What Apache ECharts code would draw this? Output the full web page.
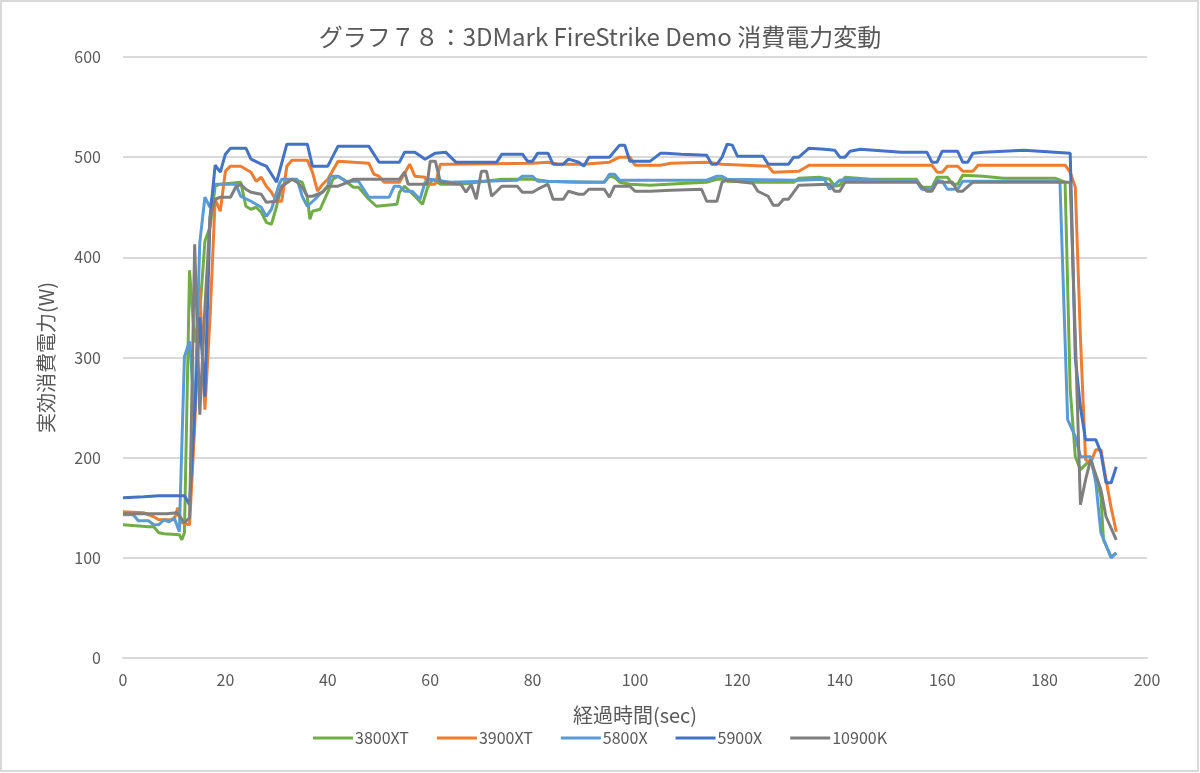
<!DOCTYPE html>
<html>
<head>
<meta charset="utf-8">
<script src="https://cdn.jsdelivr.net/npm/echarts@6/dist/echarts.min.js"></script>
<style>
  body { margin: 0; background: #fff; }
  #chart { width: 1200px; height: 773px; }
</style>
</head>
<body>
<div id="chart"></div>
<script>
// [経過時間 sec, 実効消費電力 W]
var s3800XT = [[0,133],[5,131],[6,131],[7,125],[8,124],[11,123],[11.5,118],[12,125],[13,387],[14,315],[15,345],[16,416],[17,430],[18,471],[19,473],[23,475],[24,451],[25,448],[26,450],[27,445],[28,435],[29,433],[30,451],[31,471],[33,478],[35,475],[36,460],[36.5,438],[37,446],[38.5,448],[40,465],[41,478],[42,481],[43,478],[45,470],[46,470],[48,458],[49.5,451],[53.5,453],[54,465],[55,471],[57,461],[58.5,453],[59.5,470],[60.5,478],[62,473],[66,473],[74,478],[80,478],[83,476],[88,475],[94,475],[95,481],[96,480],[97,475],[99,473],[103,472],[110,474],[114,475],[116,478],[117,478],[118,476],[124,475],[131,475],[132,479],[136,480],[138,478],[139,471],[140,472],[141,480],[146,478],[155,478],[156,470],[158,470],[159,480],[161,480],[162,473],[163,473],[164,482],[168,481],[172,479],[182,479],[184,475],[185,268],[186,201],[187,188],[189,198],[191,161],[191.5,118],[193,101],[194,105]];
var s3900XT = [[0,146],[4,145],[6,141],[7,138],[10,138],[10.7,150],[11.5,135],[13,133],[14,230],[15,370],[16,248],[17,340],[18,458],[19,446],[20,486],[21,491],[23,491],[25,485],[26,476],[27,480],[28,471],[29,465],[30,456],[31,456],[32,491],[33,497],[36,497],[37,485],[38,466],[39,473],[40,478],[42,496],[48,494],[49,483],[50,481],[51,475],[54,475],[56,493],[57,481],[59,480],[59.5,473],[61,473],[62,493],[65,493],[80,494],[83,495],[85,493],[90,493],[95,495],[97,500],[99,500],[100,492],[105,492],[107,494],[114,495],[117,493],[126,491],[127,485],[132,486],[134,492],[158,492],[159,485],[160,485],[161,491],[163,491],[164,486],[166,486],[167,492],[184,492],[185,485],[186,470],[187,320],[188,198],[189,195],[190,208],[191,208],[192,178],[193,150],[194,126]];
var s5800X = [[0,143],[2,143],[3,137],[5,137],[6,133],[7,133],[8,138],[9,136],[10,140],[11,126],[12,301],[13,316],[14,245],[15,415],[16,460],[17,450],[18,473],[22,473],[23,461],[25,456],[27,450],[28,441],[29,448],[30.5,473],[31,478],[34,478],[35,461],[36,451],[37.5,458],[40,471],[40.5,481],[42,481],[43.5,476],[46,476],[48,460],[52,460],[53,471],[54,471],[55,466],[56.5,466],[58,458],[59,475],[60,478],[64,475],[77,477],[78,481],[80,481],[81,476],[94,475],[95,483],[96,483],[97,477],[114,477],[116,481],[117,481],[118,478],[132,477],[137,478],[138,468],[140,477],[142,478],[155,476],[156,468],[158,468],[159,477],[160,476],[161,468],[163,468],[164,476],[172,476],[182,476],[183,475],[184.5,238],[186,221],[187,201],[189,201],[190,175],[191,125],[193,100],[194,105]];
var s5900X = [[0,160],[4,161],[7,162],[12,162],[13,153],[15,340],[16,261],[17,440],[18,492],[19,485],[20,503],[21,509],[24,509],[25,498],[27,493],[28,491],[30,475],[32,513],[36,513],[37,491],[40,491],[42,511],[48,511],[50,495],[54,495],[55,505],[57,505],[59,498],[61,504],[63,505],[65,495],[73,495],[74,503],[78,503],[79,496],[80,496],[81,504],[83,504],[84,493],[86,493],[87,498],[89,495],[90,491],[91,500],[95,500],[97,512],[98,512],[99,496],[103,496],[105,504],[106,504],[109,503],[114,502],[115,493],[116,493],[117,500],[118,513],[119,512],[120,501],[125,501],[126,493],[130,493],[131,500],[132,500],[134,509],[137,508],[139,507],[140,500],[141,500],[142,506],[144,508],[152,505],[157,505],[158,495],[159,495],[160,506],[163,506],[164,495],[165,495],[166,504],[168,505],[176,507],[185,504],[186,300],[187,250],[188,218],[190,218],[191,205],[192,175],[193,175],[194,191]];
var s10900K = [[0,144],[8.6,144],[10.5,145],[12,135],[13,140],[14,413],[15,243],[16,350],[17,440],[18,458],[19,460],[21,460],[22,470],[23,473],[24,468],[25,465],[27,463],[28,455],[30,456],[31,471],[33,478],[34,475],[35,470],[36,461],[37,461],[38,463],[39,465],[40,471],[42,471],[44,475],[45,478],[54,478],[55,485],[55.7,473],[59.4,473],[60,496],[61,496],[62,475],[66,473],[67,465],[68,473],[69,458],[70,486],[71,486],[72,461],[74,471],[77,471],[78,465],[80,465],[81,468],[83,473],[84,458],[86,458],[87,466],[89,463],[90,463],[91,468],[94,468],[95,460],[96,471],[99,471],[100,466],[103,466],[107,467],[113,468],[114,456],[116,456],[117,475],[118,477],[123,474],[124,466],[126,461],[127,452],[128,452],[129,458],[130,458],[132,472],[138,473],[139,466],[140,466],[141,475],[155,475],[157,466],[158,466],[159,475],[162,475],[163,466],[164,466],[166,475],[185,475],[186,320],[187,153],[188,178],[189,198],[191,168],[192,141],[194,118]];

var seriesNames = ["3800XT", "3900XT", "5800X", "5900X", "10900K"];
var seriesData = [s3800XT, s3900XT, s5800X, s5900X, s10900K];
var colors = ["#70ad47", "#ed7d31", "#5b9bd5", "#4472c4", "#7f7f7f"];

var font = "'Noto Sans CJK JP', 'Noto Sans', sans-serif";
var textColor = "#595959";

var chart = echarts.init(document.getElementById("chart"));
chart.setOption({
  animation: false,
  color: colors,
  textStyle: { fontFamily: font },
  title: {
    text: "グラフ７８：3DMark FireStrike Demo 消費電力変動",
    left: "center",
    top: 20,
    textStyle: { fontFamily: font, fontSize: 24, fontWeight: "normal", color: textColor }
  },
  graphic: [{
    type: "rect",
    shape: { x: 1, y: 1, width: 1197, height: 770 },
    style: { fill: "none", stroke: "#d9d9d9", lineWidth: 2 }
  }],
  legend: {
    bottom: 22,
    left: "center",
    icon: "rect",
    itemWidth: 40,
    itemHeight: 3,
    itemGap: 28,
    textStyle: { fontFamily: font, fontSize: 16, color: textColor, padding: [0, 0, 0, -3] },
    data: seriesNames
  },
  grid: { left: 123, right: 53, top: 57, bottom: 115 },
  xAxis: {
    type: "value",
    min: 0, max: 200, interval: 20,
    name: "経過時間(sec)",
    nameLocation: "middle",
    nameGap: 47,
    nameTextStyle: { fontFamily: font, fontSize: 20, color: textColor },
    axisLine: { show: true, lineStyle: { color: "#d9d9d9", width: 2 } },
    axisTick: { show: false },
    splitLine: { show: false },
    axisLabel: { fontFamily: font, fontSize: 16, color: textColor, margin: 14 }
  },
  yAxis: {
    type: "value",
    min: 0, max: 600, interval: 100,
    name: "実効消費電力(W)",
    nameLocation: "middle",
    nameGap: 67,
    nameTextStyle: { fontFamily: font, fontSize: 20, color: textColor },
    axisLine: { show: false },
    axisTick: { show: false },
    splitLine: { lineStyle: { color: "#d9d9d9", width: 2 } },
    axisLabel: { fontFamily: font, fontSize: 16, color: textColor, margin: 22 }
  },
  series: seriesNames.map(function (name, i) {
    return {
      name: name,
      type: "line",
      data: seriesData[i],
      showSymbol: false,
      symbol: "none",
      lineStyle: { width: 3, color: colors[i] },
      itemStyle: { color: colors[i] }
    };
  })
});
</script>
</body>
</html>
